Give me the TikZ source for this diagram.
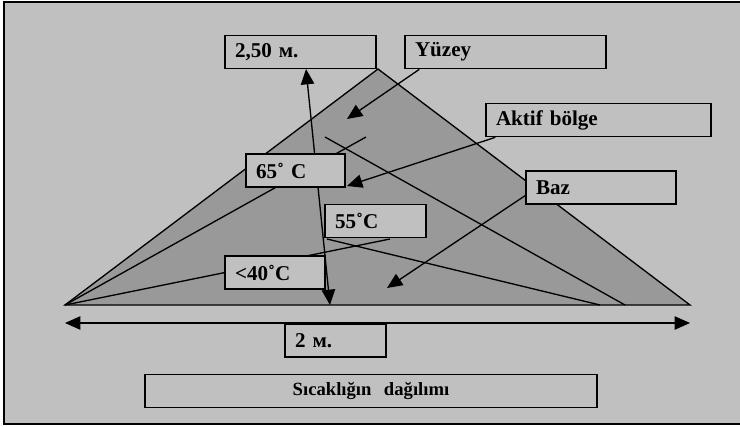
\documentclass[tikz,border=0pt]{standalone}
\usepackage{fontspec}
\setmainfont{Liberation Serif}
\usetikzlibrary{arrows.meta}
\definecolor{bgg}{HTML}{C0C0C0}
\definecolor{trig}{HTML}{999999}
\tikzset{
  lw/.style={line width=1pt},
  arr/.style={lw,-{Triangle[length=11.5pt,width=10pt]}},
  darr/.style={lw,{Triangle[length=11.5pt,width=10pt]}-{Triangle[length=11.5pt,width=10pt]}},
  lbox/.style={draw,lw,fill=bgg,rectangle,inner xsep=7.5pt,inner ysep=0pt,
    minimum height=25pt,align=left,font=\fontsize{15.8}{18}\selectfont\bfseries},
}
\begin{document}
\begin{tikzpicture}[x=0.75pt,y=-0.75pt]
\useasboundingbox (0,0) rectangle (740,426);
\fill[white] (0,0) rectangle (740,426);
\fill[bgg] (4,2) rectangle (740,424);
\draw[lw] (742,2) -- (4,2) -- (4,424) -- (742,424);
% main triangle
\coordinate (A) at (65,305);
\coordinate (T) at (378,69);
\coordinate (B) at (690,305);
\fill[trig] (A) -- (T) -- (B) -- cycle;
\draw[lw] (A) -- (T) -- (B) -- cycle;
% inner zone lines
\coordinate (l1) at (366,137);
\coordinate (l2s) at (325,137);
\coordinate (l2e) at (625,305);
\coordinate (l3) at (390,239);
\coordinate (l4s) at (327,239);
\coordinate (l4e) at (600,305);
\draw[lw] (A) -- (l1);
\draw[lw] (l2s) -- (l2e);
\draw[lw] (A) -- (l3);
\draw[lw] (l4s) -- (l4e);
% dimension arrows
\coordinate (vb) at (330,305);
\coordinate (vt) at (306,69);
\draw[darr] (vb) -- (vt);
\coordinate (hl) at (65,323);
\coordinate (hr) at (690,323);
\draw[darr] (hl) -- (hr);
% boxes
\node[lbox,minimum width=113.25pt,text width=98.25pt] (h250) at (300.5,52) {2,50 м.};
\node[lbox,minimum width=150.75pt,text width=135.75pt] (yuz) at (505.5,52) {Yüzey};
\node[lbox,minimum width=168.75pt,text width=153.75pt] (akt) at (598.5,120) {Aktif bölge};
\node[lbox,minimum width=112.5pt,text width=97.5pt,minimum height=24.75pt] (baz) at (601,187.5) {Baz};
\node[lbox,minimum width=74.25pt,text width=59.25pt,minimum height=24.75pt] (t65) at (295.5,170.5) {65˚ C};
\node[lbox,minimum width=75.75pt,text width=60.75pt] (t55) at (375.5,221) {55˚C};
\node[lbox,minimum width=75pt,text width=60pt,minimum height=24.75pt] (t40) at (275,272.5) {<40˚C};
\node[lbox,minimum width=75.75pt,text width=60.75pt,minimum height=24.75pt] (w2) at (335.5,340.5) {2 м.};
\node[lbox,minimum width=339pt,text width=324pt,align=center,font=\fontsize{14}{17}\selectfont\bfseries] (cap) at (371,391) {Sıcaklığın\ \ dağılımı};
% connector arrows
\coordinate (tY) at (347,119);
\coordinate (tA) at (347,186);
\coordinate (tB) at (387,288);
\draw[arr] ([xshift=11.25pt]yuz.south west) -- (tY);
\draw[arr] ([xshift=7.5pt]akt.south west) -- (tA);
\draw[arr] ([yshift=-6pt]baz.west) -- (tB);
\end{tikzpicture}
\end{document}
